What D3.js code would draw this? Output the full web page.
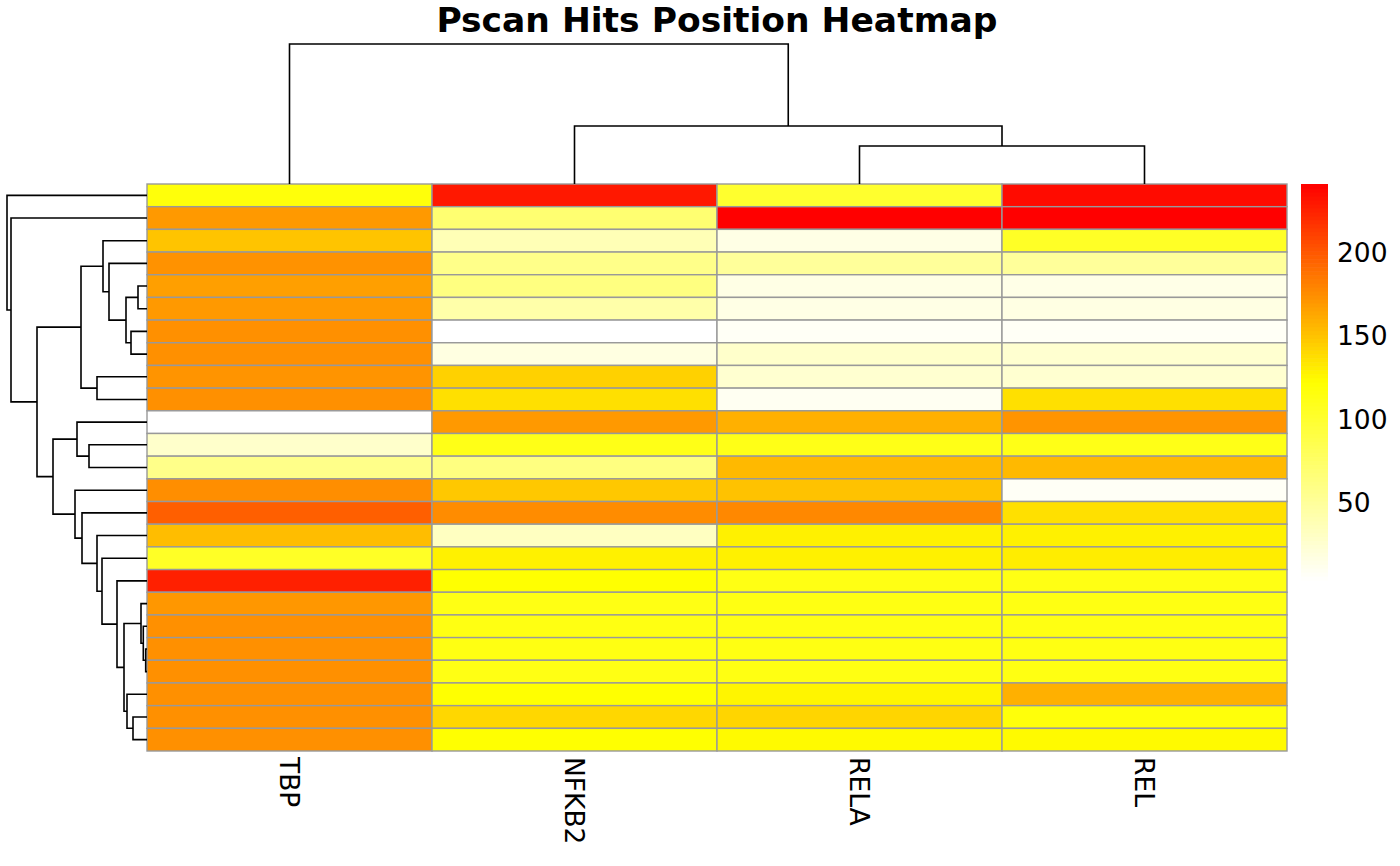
<!DOCTYPE html>
<html><head><meta charset="utf-8">
<script src="https://cdn.jsdelivr.net/npm/d3@7"></script>
<style>body{margin:0;background:#fff;} svg{display:block;font-family:"DejaVu Sans",sans-serif;}</style>
</head><body>
<svg id="chart" width="1400" height="866"></svg>
<script>
// ---- data ----
const title = "Pscan Hits Position Heatmap";
const columns = ["TBP", "NFKB2", "RELA", "REL"];
const tbp   = [118,170,150,173,167,170,174,174,172,174,  4, 28, 59,175,197,153,105,226,171,174,174,174,174,174,174];
const nfkb2 = [230, 70, 38, 59, 63, 44,  4, 18,144,137,170,112, 63,148,176, 33,129,122,113,114,114,113,122,141,122];
const rela  = [101,241, 16, 51, 16, 16,  8, 28, 26, 10,159,112,155,151,178,129,129,113,114,114,114,114,127,142,125];
const rel   = [236,241,105, 51, 15, 17,  8, 26, 26,137,172,112,155,  8,137,129,131,113,114,114,114,114,159,118,125];
const legendTicks = [50, 100, 150, 200];
// hclust-style merges: negative = leaf (1-based, display order), positive = earlier merge
const rowMerge = [
  [-21,-22,1.3],[-20,1,3.7],[-19,2,6],[-5,-6,9],[-24,-25,14],[-7,-8,16],[-23,5,20],[4,6,21],
  [3,7,23],[-18,9,30],[-4,8,38],[-3,11,44],[-17,10,45],[-9,-10,50],[-16,13,50],[-12,-13,58],
  [-15,15,65],[12,14,66],[-11,16,70],[-14,17,72],[19,20,94],[18,21,110],[-2,22,136],[-1,23,140]
];
const colMerge = [[-3,-4,38],[-2,1,58],[-1,2,140]];

(function () {
// ---- build table ----
const series = [tbp, nfkb2, rela, rel];
const nRows = tbp.length;
const cells = [];
for (let r = 0; r < nRows; r++) columns.forEach((c, j) => cells.push({row: r, col: c, value: series[j][r]}));

const svg = d3.select("#chart");
const gLeft = 147, gRight = 1287, gTop = 184, gBottom = 751;

const x = d3.scaleBand().domain(columns).range([gLeft, gRight]);
const y = d3.scaleBand().domain(d3.range(nRows)).range([gTop, gBottom]);
const vmin = d3.min(cells, d => d.value), vmax = d3.max(cells, d => d.value);
const color = d3.scaleLinear().domain([vmin, (vmin + vmax) / 2, vmax]).range(["#ffffff", "#ffff00", "#ff0000"]);

// cells
svg.append("g").selectAll("rect").data(cells).join("rect")
  .attr("x", d => x(d.col)).attr("y", d => y(d.row))
  .attr("width", x.bandwidth()).attr("height", y.bandwidth())
  .attr("fill", d => color(d.value))
  .attr("stroke", "#999999").attr("stroke-width", 1.4);

// dendrogram layout
function layout(merge, leafPos) {
  const nodes = [];
  const get = c => c < 0 ? {pos: leafPos(-c), h: 0} : nodes[c - 1];
  merge.forEach(([a, b, h]) => {
    const A = get(a), B = get(b);
    nodes.push({pos: (A.pos + B.pos) / 2, h, a: A, b: B});
  });
  return nodes;
}
// row dendrogram
const rowNodes = layout(rowMerge, i => y(i - 1) + y.bandwidth() / 2);
const rh = d3.scaleLinear().domain([0, d3.max(rowMerge, d => d[2])]).range([gLeft, 7]);
svg.append("g").selectAll("path").data(rowNodes).join("path")
  .attr("d", n => `M${rh(n.a.h)},${n.a.pos}H${rh(n.h)}V${n.b.pos}H${rh(n.b.h)}`)
  .attr("fill", "none").attr("stroke", "#000").attr("stroke-width", 1.6);
// column dendrogram
const colNodes = layout(colMerge, i => x(columns[i - 1]) + x.bandwidth() / 2);
const ch = d3.scaleLinear().domain([0, d3.max(colMerge, d => d[2])]).range([gTop, 44]);
svg.append("g").selectAll("path").data(colNodes).join("path")
  .attr("d", n => `M${n.a.pos},${ch(n.a.h)}V${ch(n.h)}H${n.b.pos}V${ch(n.b.h)}`)
  .attr("fill", "none").attr("stroke", "#000").attr("stroke-width", 1.6);

// column labels
svg.append("g").selectAll("text").data(columns).join("text")
  .attr("transform", d => `translate(${x(d) + x.bandwidth() / 2},757) rotate(90)`)
  .attr("dy", "0.35em").attr("text-anchor", "start")
  .attr("font-size", 26.5).attr("fill", "#000").text(d => d);

// legend
const lx = 1301, lw = 27;
const ly = d3.scaleLinear().domain([vmin, vmax]).range([580, 184]);
const steps = d3.range(100).map(i => vmin + (vmax - vmin) * i / 100);
const stepH = (vmax - vmin) / 100;
svg.append("g").selectAll("rect").data(steps).join("rect")
  .attr("x", lx).attr("width", lw)
  .attr("y", d => ly(d + stepH)).attr("height", d => ly(d) - ly(d + stepH) + 0.6)
  .attr("fill", d => color(d + stepH / 2));
svg.append("g").selectAll("text").data(legendTicks).join("text")
  .attr("x", 1337).attr("y", d => ly(d)).attr("dy", "0.35em")
  .attr("font-size", 26.5).attr("fill", "#000").text(d => d);

// title
svg.append("text").attr("x", (gLeft + gRight) / 2).attr("y", 32)
  .attr("text-anchor", "middle").attr("font-weight", "bold").attr("font-size", 34.5)
  .attr("fill", "#000").text(title);
})();
</script>
</body></html>
